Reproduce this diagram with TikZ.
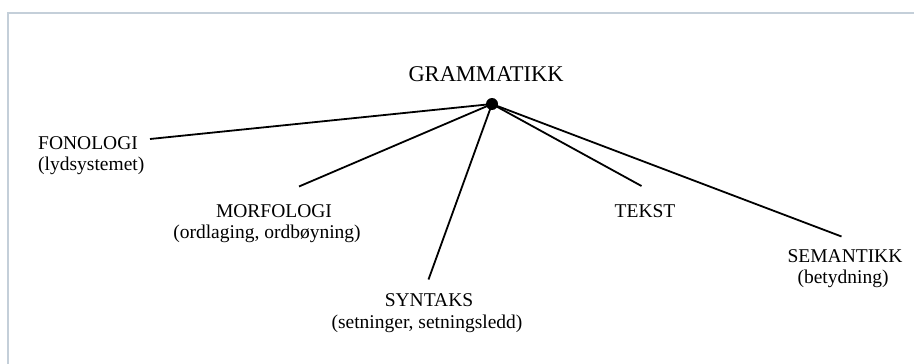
\documentclass[tikz,border=0pt]{standalone}
\usepackage{fontspec}
\setmainfont{Liberation Serif}
\definecolor{framecol}{HTML}{C4CFD9}
\begin{document}
\begin{tikzpicture}[x=1pt,y=-1pt,
  lbl/.style={inner sep=0pt, anchor=base, font=\fontsize{19.5}{23}\selectfont},
  lblw/.style={lbl, anchor=base west},
  conn/.style={line width=1.8pt, black},
  dotnode/.style={circle, fill=black, inner sep=0pt, minimum size=12pt}]
  \useasboundingbox (0,0) rectangle (914,364);
  \fill[white] (0,0) rectangle (914,364);
  % partial frame (top and left edges)
  \draw[framecol, line width=2.5pt] (8,364) -- (8,13) -- (914,13);
  % title and hub
  \node[lbl, font=\fontsize{22.5}{26}\selectfont] (gram) at (486,81) {GRAMMATIKK};
  \node[dotnode] (hub) at (492,104) {};
  % labels
  \node[lblw] (fon) at (38,149) {FONOLOGI};
  \node[lblw] (fonsub) at (38,170) {(lydsystemet)};
  \node[lbl] (morf) at (274,217) {MORFOLOGI};
  \node[lbl] (morfsub) at (267,238) {(ordlaging, ordbøyning)};
  \node[lbl] (syn) at (429,306) {SYNTAKS};
  \node[lbl] (synsub) at (427,328) {(setninger, setningsledd)};
  \node[lbl] (tekst) at (645,217) {TEKST};
  \node[lbl] (sem) at (845,262) {SEMANTIKK};
  \node[lbl] (semsub) at (843,283) {(betydning)};
  % connector ends
  \coordinate (fonE) at (150,139);
  \coordinate (morfE) at (299,186.5);
  \coordinate (synE) at (428.5,279.5);
  \coordinate (tekE) at (641.5,186);
  \coordinate (semE) at (841.5,236.5);
  % connectors
  \draw[conn] (hub.center) -- (fonE);
  \draw[conn] (hub.center) -- (morfE);
  \draw[conn] (hub.center) -- (synE);
  \draw[conn] (hub.center) -- (tekE);
  \draw[conn] (hub.center) -- (semE);
\end{tikzpicture}
\end{document}
